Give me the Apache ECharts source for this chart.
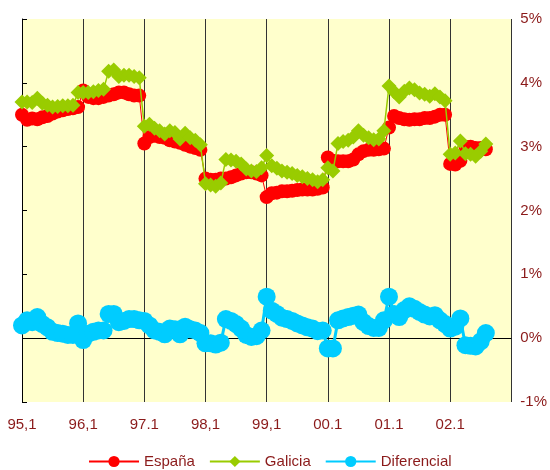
<!DOCTYPE html>
<html>
<head>
<meta charset="utf-8">
<script src="https://cdn.jsdelivr.net/npm/echarts@6/dist/echarts.min.js"></script>
<style>
  html, body { margin: 0; padding: 0; background: #ffffff; }
  #chart { width: 550px; height: 470px; }
</style>
</head>
<body>
<div id="chart"></div>
<script>
// Monthly inflation rates (%), January 1995 to August 2002
const espana = [
  3.50, 3.42, 3.44, 3.43, 3.46, 3.48, 3.52, 3.55, 3.57, 3.59, 3.60, 3.62,
  3.88, 3.78, 3.76, 3.76, 3.78, 3.80, 3.82, 3.85, 3.85, 3.82, 3.80, 3.80,
  3.05, 3.15, 3.17, 3.15, 3.14, 3.10, 3.08, 3.06, 3.03, 3.00, 2.98, 2.95,
  2.50, 2.48, 2.48, 2.50, 2.50, 2.52, 2.55, 2.58, 2.60, 2.60, 2.58, 2.55,
  2.21, 2.27, 2.28, 2.30, 2.30, 2.31, 2.32, 2.33, 2.33, 2.33, 2.34, 2.36,
  2.83, 2.78, 2.77, 2.77, 2.77, 2.80, 2.88, 2.93, 2.95, 2.95, 2.96, 2.97,
  3.30, 3.48, 3.45, 3.43, 3.42, 3.43, 3.43, 3.45, 3.45, 3.47, 3.50, 3.50,
  2.73, 2.72, 2.78, 3.00, 3.00, 2.98, 2.98, 2.96
];
const galicia = [
  3.70, 3.70, 3.69, 3.76, 3.68, 3.65, 3.62, 3.63, 3.64, 3.64, 3.65, 3.85,
  3.85, 3.85, 3.86, 3.88, 3.90, 4.18, 4.20, 4.10, 4.12, 4.12, 4.10, 4.08,
  3.32, 3.35, 3.29, 3.25, 3.20, 3.25, 3.22, 3.12, 3.21, 3.14, 3.10, 3.03,
  2.42, 2.40, 2.38, 2.43, 2.80, 2.79, 2.77, 2.73, 2.65, 2.62, 2.61, 2.67,
  2.86, 2.70, 2.66, 2.62, 2.60, 2.58, 2.55, 2.53, 2.50, 2.48, 2.45, 2.48,
  2.67, 2.62, 3.05, 3.08, 3.10, 3.15, 3.25, 3.18, 3.14, 3.11, 3.12, 3.25,
  3.95, 3.86, 3.78, 3.87, 3.92, 3.89, 3.84, 3.82, 3.79, 3.83, 3.78, 3.72,
  2.88, 2.90, 3.09, 2.89, 2.88, 2.85, 2.93, 3.04
];
const diferencial = [
  0.20, 0.28, 0.25, 0.33, 0.22, 0.17, 0.10, 0.08, 0.07, 0.05, 0.05, 0.23,
  -0.03, 0.07, 0.10, 0.12, 0.12, 0.38, 0.38, 0.25, 0.27, 0.30, 0.30, 0.28,
  0.27, 0.20, 0.12, 0.10, 0.06, 0.15, 0.14, 0.06, 0.18, 0.14, 0.12, 0.08,
  -0.08, -0.08, -0.10, -0.07, 0.30, 0.27, 0.22, 0.15, 0.05, 0.02, 0.03, 0.12,
  0.65, 0.43, 0.38, 0.32, 0.30, 0.27, 0.23, 0.20, 0.17, 0.15, 0.11, 0.12,
  -0.16, -0.16, 0.28, 0.31, 0.33, 0.35, 0.37, 0.25, 0.19, 0.16, 0.16, 0.28,
  0.65, 0.38, 0.33, 0.44, 0.50, 0.46, 0.41, 0.37, 0.34, 0.36, 0.28, 0.22,
  0.15, 0.18, 0.31, -0.11, -0.12, -0.13, -0.05, 0.08
];
// Labels for the January ticks, one per year (the final tick is unlabeled)
const yearLabels = ['95,1', '96,1', '97.1', '98,1', '99,1', '00.1', '01.1', '02.1', ''];

const textColor = '#8b1a1a';
const font = 'Liberation Sans, Arial, sans-serif';

const pairs = arr => arr.map((v, i) => [i, v]);

const chart = echarts.init(document.getElementById('chart'), null, { renderer: 'canvas' });
chart.setOption({
  animation: false,
  backgroundColor: '#ffffff',
  textStyle: { fontFamily: font },
  grid: {
    left: 22, right: 34, top: 19, bottom: 68,
    show: true, backgroundColor: '#ffffcc', borderWidth: 0
  },
  legend: {
    left: 83, top: 449,
    itemWidth: 50, itemHeight: 14, itemGap: 14,
    textStyle: { color: textColor, fontSize: 15, fontFamily: font },
    data: ['España', 'Galicia', 'Diferencial']
  },
  xAxis: {
    type: 'value', min: 0, max: 96, interval: 12,
    axisLine: { show: false },
    axisTick: { show: false },
    axisLabel: {
      color: textColor, fontSize: 15, fontFamily: font, margin: 15,
      formatter: v => yearLabels[Math.round(v / 12)] || ''
    },
    splitLine: { show: true, lineStyle: { color: '#333333', width: 1 } }
  },
  yAxis: {
    type: 'value', position: 'right', min: -1, max: 5, interval: 1,
    axisLine: { show: true, lineStyle: { color: '#000000', width: 1 } },
    axisTick: { show: true, length: 5, lineStyle: { color: '#000000' } },
    axisLabel: { color: textColor, fontSize: 15, fontFamily: font, margin: 9, formatter: '{value}%' },
    splitLine: { show: false }
  },
  series: [
    {
      name: 'España', type: 'line', data: pairs(espana),
      symbol: 'circle', symbolSize: 14,
      itemStyle: { color: '#ff0000' },
      lineStyle: { color: '#ff0000', width: 1 },
      z: 3
    },
    {
      name: 'Galicia', type: 'line', data: pairs(galicia),
      symbol: 'diamond', symbolSize: 15,
      itemStyle: { color: '#99cc00' },
      lineStyle: { color: '#99cc00', width: 1.5 },
      z: 4
    },
    {
      name: 'Diferencial', type: 'line', data: pairs(diferencial),
      symbol: 'circle', symbolSize: 18,
      itemStyle: { color: '#00ccff' },
      lineStyle: { color: '#00ccff', width: 3 },
      z: 5,
      markLine: {
        silent: true, symbol: 'none', label: { show: false },
        lineStyle: { color: '#000000', width: 1, type: 'solid' },
        data: [{ yAxis: 0 }],
        z: 1
      }
    }
  ]
});
</script>
</body>
</html>
